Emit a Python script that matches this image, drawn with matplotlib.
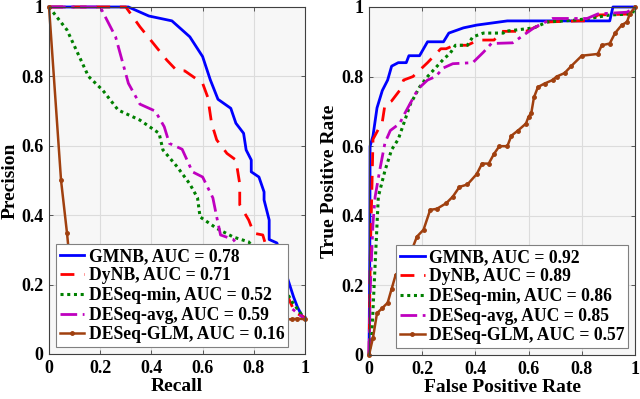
import matplotlib.pyplot as plt

plt.rcParams['font.family'] = ['Liberation Serif', 'DejaVu Serif']
plt.rcParams['font.weight'] = 'bold'
plt.rcParams['axes.labelweight'] = 'bold'

# ---- precision / recall curves ----
pr_gmnb_r = [0, 0.31, 0.39, 0.48, 0.55, 0.60, 0.63, 0.66, 0.71, 0.73, 0.76, 0.77, 0.79, 0.79, 0.82,
             0.84, 0.84, 0.85, 0.86, 0.86, 0.89, 0.90, 0.914, 0.93, 0.955, 0.97, 0.99, 1.0]
pr_gmnb_p = [1, 1, 0.974, 0.96, 0.914, 0.857, 0.79, 0.734, 0.708, 0.665, 0.636, 0.588, 0.559, 0.525, 0.51,
             0.467, 0.444, 0.415, 0.386, 0.33, 0.32, 0.30, 0.256, 0.222, 0.165, 0.136, 0.107, 0.105]

pr_dynb_r = [0, 0.30, 0.355, 0.46, 0.50, 0.53, 0.60, 0.62, 0.635, 0.655, 0.695, 0.73, 0.745, 0.745,
             0.78, 0.80, 0.835, 0.86, 0.90, 0.93, 0.96, 1.0]
pr_dynb_p = [1, 1, 0.943, 0.847, 0.816, 0.816, 0.78, 0.74, 0.665, 0.617, 0.578, 0.559, 0.49, 0.43,
             0.386, 0.348, 0.343, 0.28, 0.22, 0.17, 0.12, 0.105]

pr_min_r = [0, 0.07, 0.154, 0.21, 0.27, 0.355, 0.43, 0.445, 0.50, 0.55, 0.58, 0.59, 0.655, 0.72, 0.78,
            0.84, 0.91, 0.95, 1.0]
pr_min_p = [1, 0.934, 0.80, 0.76, 0.703, 0.674, 0.636, 0.588, 0.54, 0.49, 0.45, 0.395, 0.362, 0.337, 0.323,
            0.27, 0.2, 0.15, 0.1]

pr_avg_r = [0, 0.2, 0.26, 0.31, 0.355, 0.415, 0.45, 0.47, 0.52, 0.56, 0.60, 0.64, 0.655, 0.67, 0.72,
            0.80, 0.90, 0.95, 1.0]
pr_avg_p = [1, 1, 0.914, 0.78, 0.72, 0.70, 0.655, 0.607, 0.59, 0.525, 0.51, 0.45, 0.395, 0.343, 0.33,
            0.25, 0.15, 0.13, 0.1]

pr_glm_r = [0, 0.047, 0.07, 0.09, 0.12, 0.2, 0.4, 0.6, 0.8, 0.92, 0.95, 0.97, 1.0]
pr_glm_p = [1, 0.5, 0.35, 0.2, 0.13, 0.11, 0.10, 0.10, 0.10, 0.10, 0.10, 0.102, 0.10]

# ---- ROC curves ----
roc_gmnb_f = [0, 0.003, 0.004, 0.015, 0.03, 0.05, 0.07, 0.085, 0.11, 0.14, 0.15, 0.19, 0.22, 0.28, 0.30,
              0.355, 0.405, 0.52, 0.905, 0.917, 1.0]
roc_gmnb_t = [0, 0.3, 0.6, 0.63, 0.71, 0.76, 0.79, 0.83, 0.84, 0.84, 0.86, 0.86, 0.90, 0.90, 0.925,
              0.94, 0.948, 0.96, 0.96, 1.0, 1.0]

roc_dynb_f = [0, 0.005, 0.01, 0.015, 0.05, 0.06, 0.085, 0.115, 0.13, 0.165, 0.22, 0.27, 0.29, 0.32, 0.37,
              0.41, 0.47, 0.50, 0.59, 0.67, 0.79, 0.83, 0.86, 0.99, 1.0]
roc_dynb_t = [0, 0.3, 0.45, 0.62, 0.67, 0.72, 0.73, 0.76, 0.79, 0.80, 0.84, 0.88, 0.88, 0.89, 0.89,
              0.905, 0.905, 0.93, 0.93, 0.957, 0.96, 0.96, 0.977, 0.98, 1.0]

roc_min_f = [0, 0.01, 0.035, 0.06, 0.085, 0.11, 0.135, 0.155, 0.19, 0.22, 0.25, 0.28, 0.305, 0.325, 0.37,
             0.39, 0.43, 0.505, 0.51, 0.62, 0.67, 0.77, 0.83, 0.905, 0.99, 1.0]
roc_min_t = [0, 0.05, 0.455, 0.53, 0.59, 0.62, 0.675, 0.72, 0.77, 0.80, 0.825, 0.85, 0.867, 0.89, 0.89,
             0.914, 0.925, 0.925, 0.93, 0.94, 0.957, 0.962, 0.967, 0.977, 0.98, 1.0]

roc_avg_f = [0, 0.005, 0.015, 0.023, 0.04, 0.06, 0.08, 0.115, 0.135, 0.16, 0.185, 0.22, 0.25, 0.28, 0.315,
             0.39, 0.43, 0.46, 0.54, 0.62, 0.69, 0.82, 0.86, 0.97, 1.0]
roc_avg_t = [0, 0.2, 0.38, 0.455, 0.53, 0.61, 0.645, 0.665, 0.695, 0.73, 0.765, 0.79, 0.80, 0.825, 0.837,
             0.84, 0.87, 0.895, 0.897, 0.94, 0.967, 0.967, 0.98, 0.985, 1.0]

roc_glm_f = [0, 0.015, 0.03, 0.05, 0.07, 0.085, 0.10, 0.125, 0.15, 0.18, 0.205, 0.23, 0.255, 0.29, 0.315,
             0.34, 0.37, 0.405, 0.425, 0.45, 0.47, 0.49, 0.52, 0.535, 0.56, 0.59, 0.60, 0.61, 0.62, 0.635,
             0.66, 0.69, 0.705, 0.735, 0.76, 0.80, 0.86, 0.875, 0.905, 0.925, 0.95, 0.97, 0.98, 1.0]
roc_glm_t = [0, 0.05, 0.12, 0.135, 0.15, 0.19, 0.23, 0.25, 0.28, 0.34, 0.36, 0.417, 0.42, 0.436, 0.455,
             0.483, 0.49, 0.52, 0.55, 0.55, 0.578, 0.60, 0.60, 0.63, 0.645, 0.665, 0.685, 0.695, 0.74, 0.77,
             0.78, 0.79, 0.80, 0.81, 0.83, 0.86, 0.865, 0.89, 0.895, 0.925, 0.948, 0.957, 0.98, 1.0]

pr_labels = ['GMNB, AUC = 0.78', 'DyNB, AUC = 0.71', 'DESeq-min, AUC = 0.52',
             'DESeq-avg, AUC = 0.59', 'DESeq-GLM, AUC = 0.16']
roc_labels = ['GMNB, AUC = 0.92', 'DyNB, AUC = 0.89', 'DESeq-min, AUC = 0.86',
              'DESeq-avg, AUC = 0.85', 'DESeq-GLM, AUC = 0.57']

brown = '#a0400f'
styles = [dict(color='blue', ls='-', lw=2.0),
          dict(color='red', ls=(0, (5, 3.5)), lw=2.0),
          dict(color='green', ls=(0, (1, 1.2)), lw=2.2),
          dict(color=(0.75, 0, 0.75), ls=(0, (6, 2, 1.2, 2)), lw=2.0),
          dict(color=brown, ls='-', lw=1.8, marker='.', ms=5)]

ticks = [0, 0.2, 0.4, 0.6, 0.8, 1]
tick_labels = ['0', '0.2', '0.4', '0.6', '0.8', '1']

fig = plt.figure(figsize=(6.4, 3.99), dpi=100)
ax1 = fig.add_axes([0.0766, 0.1128, 0.4, 0.8697])
ax2 = fig.add_axes([0.5766, 0.1103, 0.4156, 0.8722])


def style_axes(ax):
    ax.set_facecolor('#f7f7f7')
    ax.set_xlim(0, 1)
    ax.set_ylim(0, 1)
    ax.set_xticks(ticks)
    ax.set_yticks(ticks)
    ax.set_xticklabels(tick_labels, fontweight='bold')
    ax.set_yticklabels(tick_labels, fontweight='bold')
    ax.grid(True, color='#dcdcdc', lw=0.8)
    ax.set_axisbelow(True)
    ax.tick_params(direction='in', length=3, width=0.6, color='#404040', labelsize=13,
                   top=True, right=True, pad=4)
    for s in ax.spines.values():
        s.set_color('#404040')
        s.set_linewidth(0.8)


pr_data = [(pr_gmnb_r, pr_gmnb_p), (pr_dynb_r, pr_dynb_p), (pr_min_r, pr_min_p),
           (pr_avg_r, pr_avg_p), (pr_glm_r, pr_glm_p)]
roc_data = [(roc_gmnb_f, roc_gmnb_t), (roc_dynb_f, roc_dynb_t), (roc_min_f, roc_min_t),
            (roc_avg_f, roc_avg_t), (roc_glm_f, roc_glm_t)]

for (x, y), lab, st in zip(pr_data, pr_labels, styles):
    ax1.plot(x, y, label=lab, clip_on=False, **st)
for (x, y), lab, st in zip(roc_data, roc_labels, styles):
    ax2.plot(x, y, label=lab, clip_on=False, **st)

for ax in (ax1, ax2):
    style_axes(ax)

ax1.set_xlabel('Recall', fontsize=14, fontweight='bold', labelpad=1)
ax1.set_ylabel('Precision', fontsize=14, fontweight='bold', labelpad=2)
ax2.set_xlabel('False Positive Rate', fontsize=14, fontweight='bold', labelpad=1)
ax2.set_ylabel('True Positive Rate', fontsize=14, fontweight='bold', labelpad=2)

leg_kw = dict(fontsize=12.7, fancybox=False, framealpha=1, edgecolor='#808080',
              handlelength=1.4, handletextpad=0.25, borderpad=0.2, labelspacing=0.15,
              borderaxespad=0.4, prop=dict(weight='bold', size=12.7))
leg_kw.pop('fontsize')
l1 = ax1.legend(loc='lower left', bbox_to_anchor=(0.0, 0.0), **leg_kw)
l2 = ax2.legend(loc='lower right', bbox_to_anchor=(1.0, 0.0), **leg_kw)
for l in (l1, l2):
    l.get_frame().set_linewidth(0.8)

fig.savefig('out.png', dpi=100)
